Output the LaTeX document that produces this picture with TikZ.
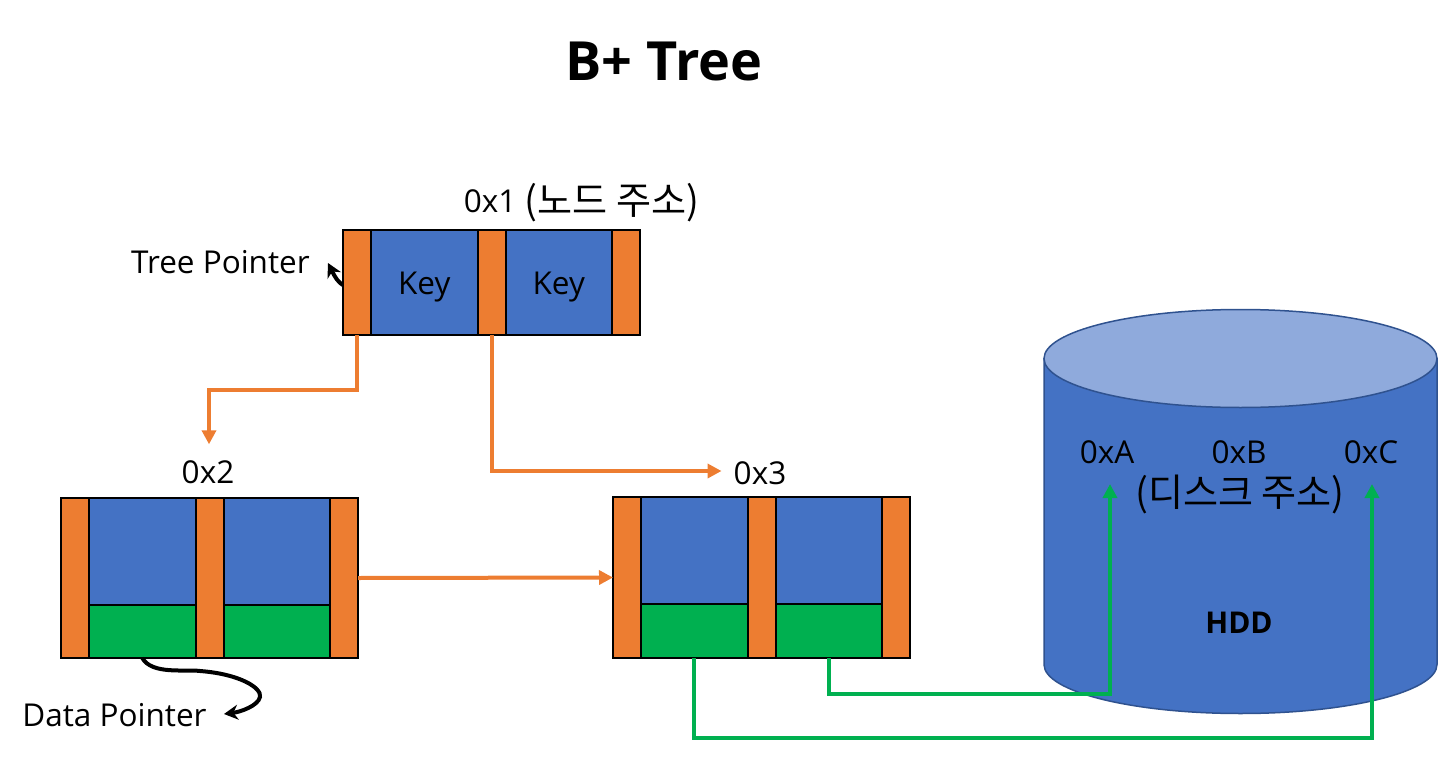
\documentclass[tikz,border=0pt]{standalone}
\usepackage{xcolor}
\usepackage{fontspec}
\setmainfont{Open Sans}
\newfontfamily\krfont[Scale=1.21]{Noto Sans CJK KR}
\usetikzlibrary{positioning, arrows.meta, shapes.geometric}

\definecolor{ptrorange}{HTML}{ED7D31}
\definecolor{keyblue}{HTML}{4472C4}
\definecolor{topblue}{HTML}{8FAADC}
\definecolor{rimblue}{HTML}{2F528F}
\definecolor{datagreen}{HTML}{00B050}

\tikzset{
    cell/.style={draw=black, line width=2pt, inner sep=0pt, outer sep=0pt, text height=23pt, text depth=0pt, font=\fontsize{31.5}{36}\selectfont},
    ptrcell/.style={cell, fill=ptrorange, minimum width=28pt},
    keycell/.style={cell, fill=keyblue, minimum width=106.5pt},
    datacell/.style={cell, fill=datagreen, minimum width=106.5pt, minimum height=53pt},
    addr/.style={inner sep=0pt, text height=23pt, text depth=0pt, font=\fontsize{31.5}{36}\selectfont},
    ptrline/.style={draw=ptrorange, line width=4pt, -{Triangle[width=14pt,length=14pt]}},
    dataline/.style={draw=datagreen, line width=4pt, -{Triangle[width=14pt,length=14pt]}},
    noteline/.style={draw=black, line width=4pt, -{Stealth[width=15pt,length=14pt]}},
    hddpart/.style={draw=rimblue, line width=1.5pt},
}

\begin{document}
\begin{tikzpicture}[x=1pt, y=-1pt, node distance=0pt]
        \useasboundingbox (0,0) rectangle (1438,760);

        \node[font=\fontsize{54}{60}\selectfont\bfseries] (title) at (664,61) {B+ Tree};

        % disk
        \coordinate (hddleft) at (1044,358.5);
        \coordinate (hddright) at (1437,358.5);
        \draw[hddpart, fill=keyblue] (hddleft) -- ++(0,306) arc[start angle=180, end angle=360, x radius=196.5pt, y radius=49pt] -- (hddright) -- cycle;
        \node[hddpart, ellipse, fill=topblue, inner sep=0pt, outer sep=0pt, minimum width=393pt, minimum height=98pt] (hdd) at (1240.5,358.5) {};

        % root
        \coordinate (tipT) at (328,263);
        \draw[noteline] (345,286) .. controls (338,283) and (335,277) .. (tipT);
        \node[ptrcell, minimum height=105pt] (rp0) at (357,282.5) {};
        \node[keycell, minimum height=105pt, right=of rp0] (rk0) {Key};
        \node[ptrcell, minimum height=105pt, right=of rk0] (rp1) {};
        \node[keycell, minimum height=105pt, right=of rp1] (rk1) {Key};
        \node[ptrcell, minimum height=105pt, right=of rk1] (rp2) {};

        % left leaf
        \node[ptrcell, minimum height=160pt] (lp0) at (75,578) {};
        \node[keycell, minimum height=107pt, below right=of lp0.north east] (lk0) {};
        \node[datacell, below=of lk0] (ld0) {};
        \node[ptrcell, minimum height=160pt, below right=of lk0.north east] (lp1) {};
        \node[keycell, minimum height=107pt, below right=of lp1.north east] (lk1) {};
        \node[datacell, below=of lk1] (ld1) {};
        \node[ptrcell, minimum height=160pt, below right=of lk1.north east] (lp2) {};

        % right leaf
        \node[ptrcell, minimum height=161pt] (mp0) at (627,577.5) {};
        \node[keycell, minimum height=107pt, below right=of mp0.north east] (mk0) {};
        \node[datacell, minimum height=54pt, below=of mk0] (md0) {};
        \node[ptrcell, minimum height=161pt, below right=of mk0.north east] (mp1) {};
        \node[keycell, minimum height=107pt, below right=of mp1.north east] (mk1) {};
        \node[datacell, minimum height=54pt, below=of mk1] (md1) {};
        \node[ptrcell, minimum height=161pt, below right=of mk1.north east] (mp2) {};

        \node[addr] (addr1) at (581.5,201) {0x1 \raisebox{-2pt}{\krfont (노드 주소)}};
        \node[addr] (addr2) at (208,472) {0x2};
        \node[addr] (addr3) at (760,473) {0x3};
        \node[addr] (tree) at (220.5,262) {Tree Pointer};
        \node[addr] (data) at (114.5,715) {Data Pointer};

        \node[addr] (addrA) at (1107,452) {0xA};
        \node[addr] (addrB) at (1239,452) {0xB};
        \node[addr] (addrC) at (1371,452) {0xC};
        \node[addr] (disk) at (1240,495) {{\krfont (디스크 주소)}};
        \node[addr, font=\fontsize{30}{34}\selectfont\bfseries] (hddname) at (1239,622) {HDD};

        \coordinate (tipA) at (1110,484);
        \coordinate (tipC) at (1372,484);

        \path[ptrline] (rp0.south) -- ++(0,55) -| ([xshift=1pt,yshift=16pt]addr2.north);
        \path[ptrline] (rp1.south) |- ([xshift=-12pt,yshift=2pt]addr3.west);
        \path[ptrline] (lp2.east) -- (mp0.west);

        \path[dataline] (md1.south) -- ++(0,36) -| (tipA);
        \path[dataline] (md0.south) -- ++(0,80) -| (tipC);

        \draw[noteline] (ld0.south) .. controls (152,675) and (185,669) .. (200,671)
              .. controls (240,674) and (262,688) .. (260,697)
              .. controls (258,706) and (240,712) .. (224,714);
\end{tikzpicture}
\end{document}
